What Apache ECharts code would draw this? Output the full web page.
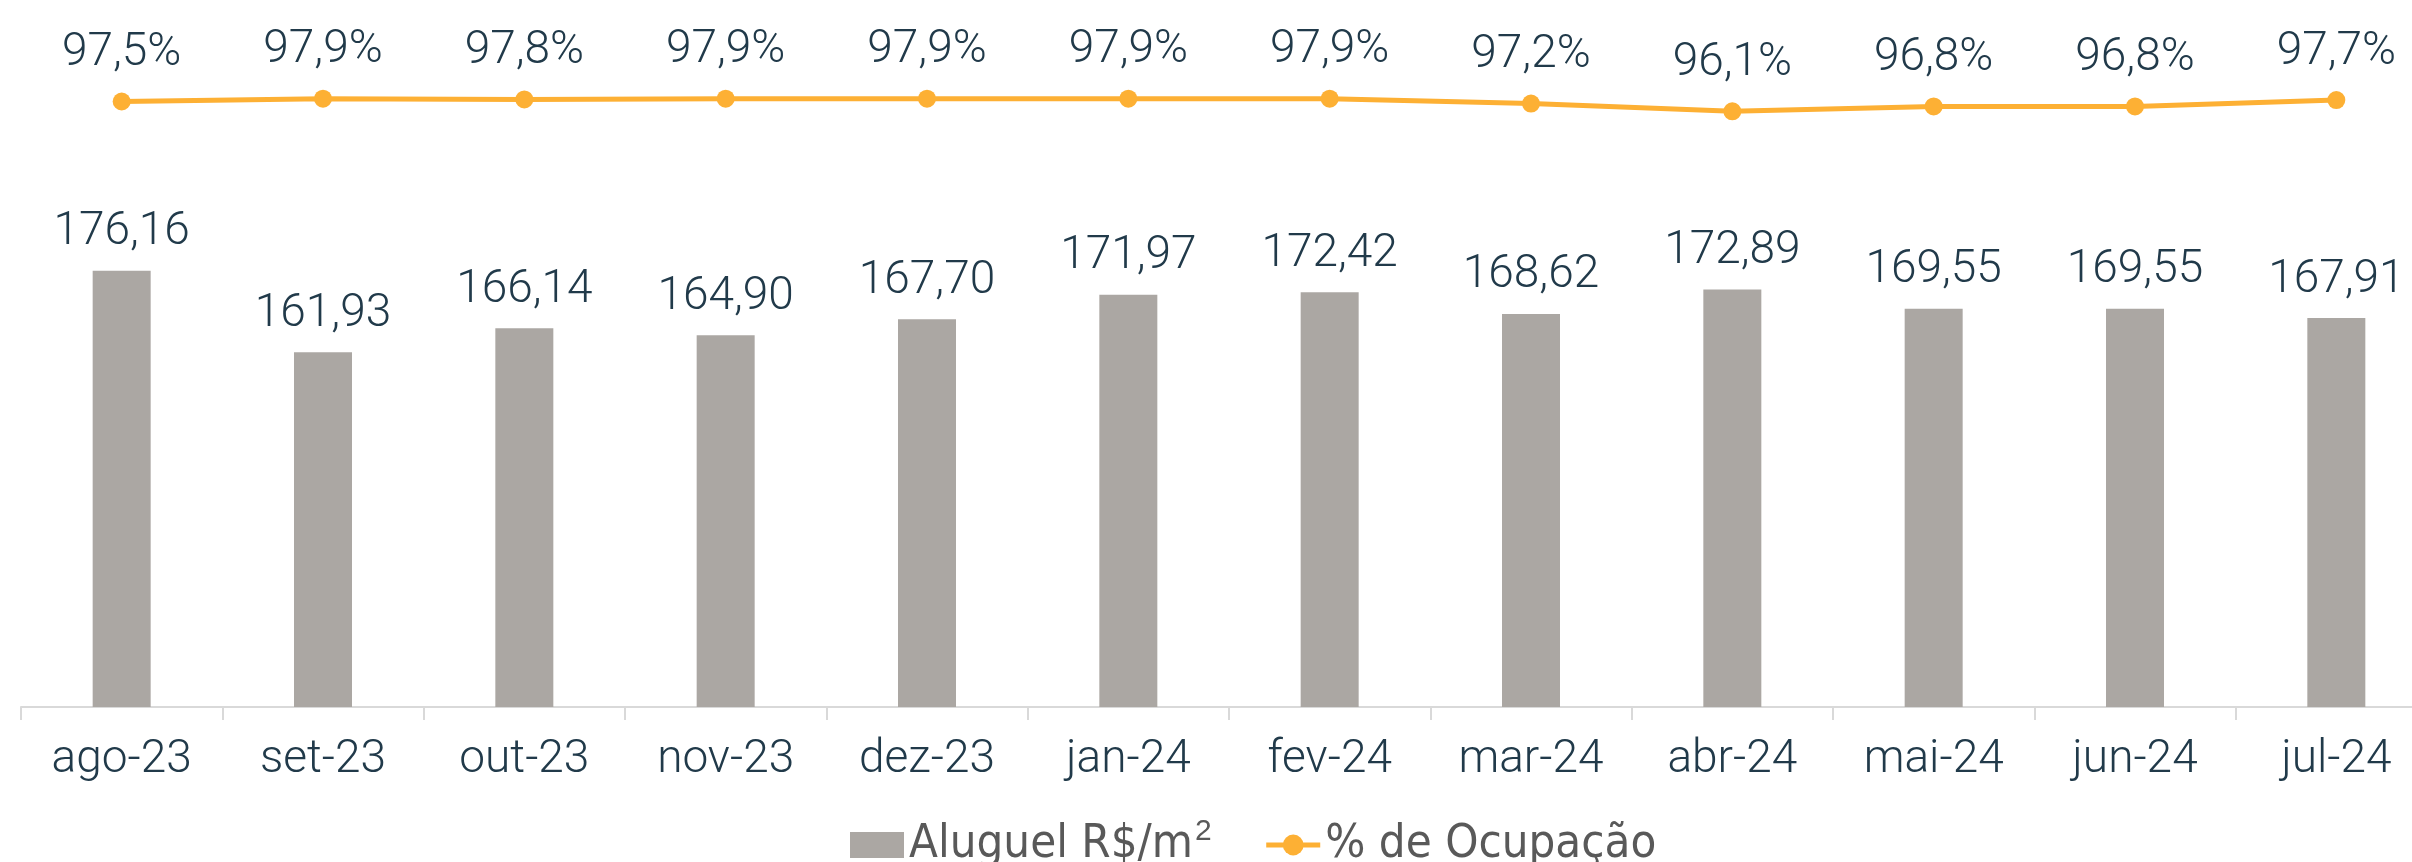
<!DOCTYPE html>
<html>
<head>
<meta charset="utf-8">
<script src="https://cdn.jsdelivr.net/npm/echarts@6/dist/echarts.min.js"></script>
<style>
  html, body { margin: 0; padding: 0; background: #fff; }
  #chart { width: 2412px; height: 862px; }
</style>
</head>
<body>
<div id="chart"></div>
<script>
// meses
const months = ['ago-23', 'set-23', 'out-23', 'nov-23', 'dez-23', 'jan-24', 'fev-24', 'mar-24', 'abr-24', 'mai-24', 'jun-24', 'jul-24']
// aluguel R$/m2
const rentValues = [176.16, 161.93, 166.14, 164.90, 167.70, 171.97, 172.42, 168.62, 172.89, 169.55, 169.55, 167.91]
// % de ocupacao
const occupancy = [97.5, 97.9, 97.8, 97.9, 97.9, 97.9, 97.9, 97.2, 96.1, 96.8, 96.8, 97.7]

const labelColor = '#213a4a'
const labelFont = 'Roboto, "Open Sans", sans-serif'
const rentName = 'Aluguel R$/m²'
const occName = '% de Ocupação'

const chart = echarts.init(document.getElementById('chart'))

const option = {
  animation: false,
  backgroundColor: '#ffffff',
  grid: {
    left: 21,
    width: 2416,
    top: 77,
    bottom: 155,
    outerBoundsMode: 'none'
  },
  legend: {
    left: 845,
    top: 812,
    itemWidth: 54,
    itemHeight: 26,
    itemGap: 52,
    lineStyle: { width: 5 },
    textStyle: {
      fontFamily: '"Liberation Sans Narrow", "DejaVu Sans Condensed", sans-serif',
      fontSize: 47,
      color: '#595959',
      rich: {
        sup: {
          fontFamily: '"Liberation Sans Narrow", sans-serif',
          fontSize: 30,
          color: '#595959',
          padding: [0, 0, 26, 2]
        }
      }
    },
    formatter: name => name === rentName ? 'Aluguel R$/m{sup|2}' : name,
    data: [
      { name: rentName, icon: 'rect' },
      { name: occName }
    ]
  },
  xAxis: {
    type: 'category',
    data: months,
    axisLine: { lineStyle: { color: '#d9d9d9', width: 2 } },
    axisTick: { show: true, length: 13, lineStyle: { color: '#d9d9d9', width: 2 } },
    axisLabel: {
      margin: 30,
      fontFamily: labelFont,
      fontWeight: 300,
      fontSize: 46,
      color: labelColor
    }
  },
  yAxis: [
    { type: 'value', min: 100, max: 210, show: false },
    { type: 'value', min: 11, max: 101, show: false }
  ],
  series: [
    {
      name: rentName,
      type: 'bar',
      yAxisIndex: 0,
      data: rentValues,
      barWidth: 58,
      itemStyle: { color: '#aba7a3' },
      label: {
        show: true,
        position: 'top',
        distance: 15,
        fontFamily: labelFont,
        fontWeight: 300,
        fontSize: 46,
        color: labelColor,
        formatter: p => p.value.toFixed(2).replace('.', ',')
      }
    },
    {
      name: occName,
      type: 'line',
      yAxisIndex: 1,
      data: occupancy,
      clip: false,
      symbol: 'circle',
      symbolSize: 18,
      lineStyle: { color: '#fdb034', width: 5 },
      itemStyle: { color: '#fdb034' },
      label: {
        show: true,
        position: 'top',
        distance: 16,
        fontFamily: labelFont,
        fontWeight: 300,
        fontSize: 46,
        color: labelColor,
        formatter: p => p.value.toFixed(1).replace('.', ',') + '%'
      }
    }
  ]
}

chart.setOption(option)
</script>
</body>
</html>
